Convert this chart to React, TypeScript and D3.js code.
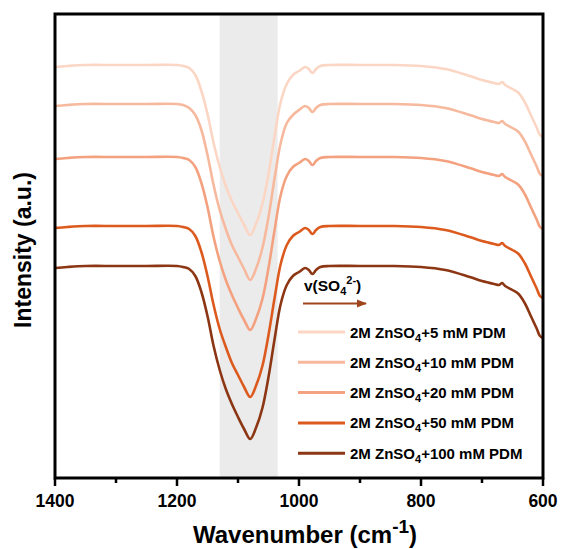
import React from 'react'
import * as d3 from 'd3'

// wavenumber grid (cm-1), shared by all spectra
const wavenumbers = [
  1400, 1380, 1350, 1300, 1250, 1200,
  1190, 1180, 1170, 1160, 1150, 1140, 1130, 1120, 1110, 1100, 1090, 1080, 1070, 1060, 1050, 1040, 1030, 1020, 1010,
  1000, 990, 984, 978, 972, 965,
  950, 900, 850, 800, 760, 720, 700, 680, 672, 667, 662, 650, 640, 630, 620, 610, 605, 600,
]

// intensities (a.u., offset stacked)
const pdm5 = [
  411, 412, 413, 413, 413, 413,
  412, 410, 403, 387, 364, 335, 311, 292, 277, 265, 253, 243, 255, 274, 304, 342, 376, 394, 403,
  407, 411, 409, 405, 409, 412,
  413, 413, 413, 412, 409, 402, 398, 395, 394, 396, 393, 389, 385, 376, 363, 350, 343, 341,
]
const pdm10 = [
  372, 373, 374, 374, 374, 374,
  373, 370, 363, 348, 323, 293, 268, 249, 233, 221, 209, 198, 210, 230, 261, 300, 335, 355, 363,
  368, 372, 370, 366, 370, 373,
  374, 374, 374, 373, 370, 363, 359, 356, 355, 357, 354, 350, 346, 337, 324, 311, 304, 302,
]
const pdm20 = [
  319, 320, 321, 321, 321, 321,
  320, 318, 311, 295, 271, 241, 217, 198, 183, 170, 158, 148, 160, 179, 210, 248, 283, 302, 311,
  315, 319, 317, 313, 317, 320,
  321, 321, 321, 320, 317, 310, 306, 303, 302, 304, 301, 297, 293, 284, 271, 258, 251, 249,
]
const pdm50 = [
  250, 251, 252, 252, 252, 252,
  251, 249, 242, 226, 202, 173, 149, 131, 115, 103, 91, 81, 93, 112, 143, 180, 214, 233, 242,
  246, 250, 248, 244, 248, 251,
  252, 252, 252, 251, 248, 241, 237, 234, 233, 235, 232, 228, 224, 215, 202, 189, 182, 180,
]
const pdm100 = [
  210, 211, 212, 212, 212, 212,
  211, 209, 202, 186, 162, 132, 108, 89, 74, 61, 49, 39, 51, 70, 101, 139, 174, 193, 202,
  206, 210, 208, 204, 208, 211,
  212, 212, 212, 211, 208, 201, 197, 194, 193, 195, 192, 188, 184, 175, 162, 149, 142, 140,
]

const seriesNames = ['5', '10', '20', '50', '100']
const seriesValues = [pdm5, pdm10, pdm20, pdm50, pdm100]
const colors = ['#fbd6c4', '#f7b99d', '#f3a17f', '#dc5a1e', '#8c3613']

const majorTicks = [1400, 1200, 1000, 800, 600]
const minorTicks = [1300, 1100, 900, 700]
const band = [1130, 1035]

const width = 563
const height = 549
const left = 55
const right = 543
const top = 14
const bottom = 478
const font = 'Arial, "Liberation Sans", sans-serif'

export default function App() {
  const x = d3.scaleLinear().domain([1400, 600]).range([left, right])
  const y = d3.scaleLinear().domain([0, 464]).range([bottom, top])

  const line = d3.line<number>()
    .x((d, i) => x(wavenumbers[i]))
    .y((d) => y(d))
    .curve(d3.curveCatmullRom.alpha(0.5))

  const legendX = 298
  const legendY = 332
  const legendStep = 30.3

  return (
    <svg width={width} height={height} style={{ position: 'absolute', left: 0, top: 0, background: '#fff' }}
      fontFamily={font}>
      <rect x={x(band[0])} y={top} width={x(band[1]) - x(band[0])} height={bottom - top} fill="#ebebeb" />

      {seriesValues.map((vals, i) => (
        <path key={i} d={line(vals) || ''} fill="none" stroke={colors[i]} strokeWidth={2.6} strokeLinejoin="round" />
      ))}

      {/* frame */}
      <rect x={left} y={top} width={right - left} height={bottom - top} fill="none" stroke="#000" strokeWidth={3} />

      {majorTicks.map((t) => (
        <g key={t}>
          <line x1={x(t)} x2={x(t)} y1={bottom} y2={bottom + 8} stroke="#000" strokeWidth={2.5} />
          <text x={x(t)} y={bottom + 29} textAnchor="middle" fontSize={17.5} fontWeight="bold">{t}</text>
        </g>
      ))}
      {minorTicks.map((t) => (
        <line key={t} x1={x(t)} x2={x(t)} y1={bottom} y2={bottom + 5} stroke="#000" strokeWidth={2.5} />
      ))}

      <text x={(left + right) / 2 + 6} y={543} textAnchor="middle" fontSize={24} fontWeight="bold">
        Wavenumber (cm<tspan dy={-10} fontSize={19}>-1</tspan><tspan dy={10}>)</tspan>
      </text>
      <text transform={`translate(31,${(top + bottom) / 2 + 4}) rotate(-90)`} textAnchor="middle" fontSize={23} fontWeight="bold">
        Intensity (a.u.)
      </text>

      {/* annotation */}
      <text x={304} y={291} fontSize={15.5} fontWeight="bold">
        v(SO<tspan dy={4} fontSize={11}>4</tspan><tspan dy={-11} fontSize={11}>2-</tspan><tspan dy={7}>)</tspan>
      </text>
      <defs>
        <marker id="arr" viewBox="0 0 10 10" refX={9} refY={5} markerWidth={5} markerHeight={5} orient="auto">
          <path d="M0,1 L10,5 L0,9 Z" fill="#a0461c" />
        </marker>
      </defs>
      <line x1={303} x2={366} y1={303.5} y2={303.5} stroke="#a0461c" strokeWidth={2} markerEnd="url(#arr)" />

      {/* legend */}
      {seriesNames.map((n, i) => (
        <g key={n} transform={`translate(${legendX},${legendY + i * legendStep})`}>
          <line x1={0} x2={47} y1={0} y2={0} stroke={colors[i]} strokeWidth={3} />
          <text x={52} y={5.5} fontSize={15} fontWeight="bold">
            2M ZnSO<tspan dy={4} fontSize={11}>4</tspan><tspan dy={-4}>+{n} mM PDM</tspan>
          </text>
        </g>
      ))}
    </svg>
  )
}
